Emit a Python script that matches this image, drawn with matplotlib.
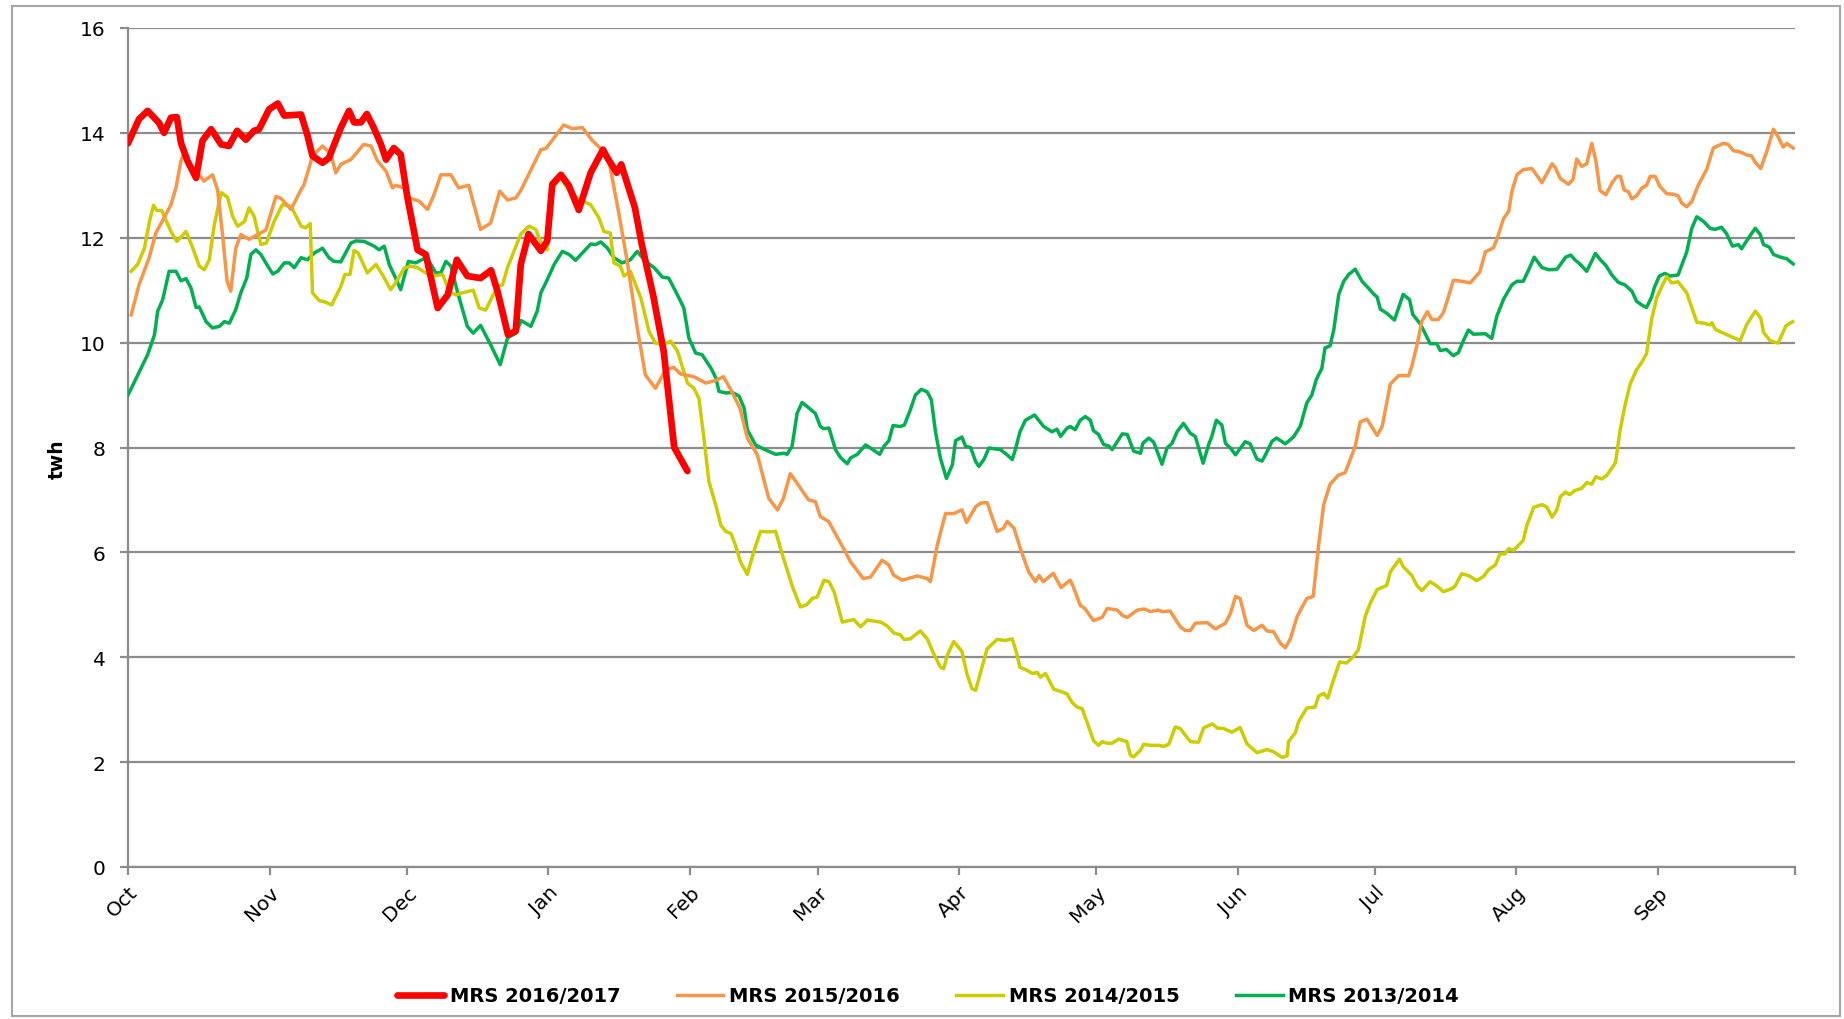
import matplotlib
matplotlib.use("Agg")
import matplotlib.pyplot as plt
from matplotlib.patches import Rectangle

plt.rcParams['font.family'] = ['DejaVu Sans']

# ---------------- data (day offset from 1 Oct, twh) ----------------
month_labels = ["Oct", "Nov", "Dec", "Jan", "Feb", "Mar", "Apr", "May", "Jun", "Jul", "Aug", "Sep"]
month_days = [0, 31, 61, 92, 123, 151, 182, 212, 243, 273, 304, 335]
x_end = 365

red_days = [0, 2.4, 4.3, 6.8, 7.9, 9.4, 10.7, 11.6, 13.0, 14.9, 16.3, 18.2, 20.4, 22.1, 23.9, 25.8,
            27.6, 28.7, 30.9, 32.8, 34.2, 37.9, 39.3, 40.4, 42.6, 44.0, 46.6, 48.4, 49.5, 51.0, 52.3,
            53.8, 55.4, 56.5, 58.2, 59.7, 61.2, 63.4, 65.2, 67.8, 70.0, 72.0, 74.3, 77.2, 79.5, 80.9,
            83.2, 84.9, 86.0, 87.7, 90.4, 91.8, 92.9, 94.8, 96.5, 98.7, 101.3, 104.0, 105.0, 107.0,
            108.0, 111.0, 112.5, 115.0, 117.3, 119.6, 122.5]
red_vals = [13.8, 14.26, 14.42, 14.19, 14.0, 14.29, 14.3, 13.81, 13.47, 13.14, 13.85, 14.07, 13.78,
            13.75, 14.04, 13.87, 14.04, 14.07, 14.45, 14.56, 14.33, 14.35, 13.95, 13.56, 13.43, 13.52,
            14.1, 14.42, 14.2, 14.2, 14.36, 14.1, 13.78, 13.49, 13.71, 13.59, 12.76, 11.77, 11.68,
            10.66, 10.91, 11.58, 11.27, 11.23, 11.38, 10.98, 10.15, 10.22, 11.49, 12.07, 11.75, 11.94,
            13.02, 13.2, 13.0, 12.53, 13.24, 13.68, 13.52, 13.24, 13.4, 12.57, 11.87, 10.9, 9.83, 8.0,
            7.55]

orange_days = [0.7, 2.4, 4.6, 6.1, 7.9, 9.4, 10.5, 11.6, 12.3, 13.3, 14.9, 16.6, 18.5, 19.6, 20.7,
               21.7, 22.5, 23.6, 24.7, 26.5, 28.4, 30.2, 32.4, 33.5, 35.7, 37.9, 38.5, 40.4, 42.6,
               44.4, 45.5, 46.6, 48.8, 51.6, 53.2, 54.6, 56.5, 57.9, 58.6, 60.4, 61.5, 63.7, 65.6,
               67.0, 68.5, 70.7, 72.4, 74.6, 77.2, 79.4, 81.4, 83.1, 84.9, 86.0, 87.7, 90.4, 91.5,
               95.4, 97.3, 99.5, 101.7, 103.5, 105.3, 107.4, 109.3, 111.5, 113.3, 115.5, 117.7,
               119.5, 121.0, 123.9, 126.5, 128.7, 130.4, 132.0, 134.0, 135.6, 137.8, 140.3, 142.2,
               143.5, 145.0, 146.5, 149.0, 150.5, 151.6, 153.4, 156.7, 158.2, 161.0, 162.6, 165.1,
               166.6, 167.6, 169.5, 172.8, 175.0, 175.7, 177.2, 179.0, 180.8, 182.6, 183.6, 185.6,
               186.7, 188.1, 190.3, 191.7, 192.5, 194.0, 195.4, 197.2, 198.7, 199.5, 200.4, 202.6,
               204.3, 206.3, 207.0, 208.5, 209.5, 211.4, 213.3, 214.4, 216.6, 217.7, 218.8, 221.0,
               222.5, 223.9, 225.5, 226.5, 228.2, 230.4, 231.5, 232.6, 233.7, 236.3, 238.1, 240.3,
               241.4, 242.5, 243.5, 245.0, 246.5, 248.3, 249.4, 250.8, 252.3, 253.4, 254.5, 256.0,
               258.1, 259.5, 260.7, 261.8, 263.2, 265.0, 266.5, 268.7, 269.8, 271.3, 273.5, 274.6,
               276.4, 278.2, 280.4, 281.1, 282.2, 283.3, 284.5, 285.5, 286.9, 288.0, 289.1, 290.2,
               292.0, 293.9, 296.0, 297.2, 299.0, 300.0, 301.2, 302.3, 303.0, 304.1, 305.5, 307.4,
               309.6, 311.8, 312.5, 313.6, 315.4, 316.4, 317.2, 318.3, 319.4, 320.5, 321.4, 322.3,
               323.6, 324.9, 326.0, 326.8, 327.6, 328.5, 329.3, 330.3, 331.4, 332.5, 333.3, 334.4,
               335.4, 336.9, 338.4, 339.4, 340.2, 341.3, 342.4, 343.8, 345.7, 347.1, 349.3, 350.4,
               351.5, 352.9, 354.4, 355.5, 356.3, 357.5, 358.8, 360.3, 361.4, 362.4, 363.2, 364.6]
orange_vals = [10.53, 11.1, 11.61, 12.09, 12.38, 12.63, 12.95, 13.47, 13.62, 13.4, 13.3, 13.08, 13.2,
               12.92, 12.06, 11.17, 10.98, 11.8, 12.06, 11.97, 12.06, 12.15, 12.79, 12.75, 12.54,
               12.92, 13.0, 13.56, 13.75, 13.6, 13.24, 13.4, 13.49, 13.78, 13.75, 13.47, 13.27,
               12.95, 13.0, 12.95, 12.76, 12.7, 12.54, 12.82, 13.2, 13.2, 12.95, 13.0, 12.16, 12.28,
               12.89, 12.72, 12.76, 12.9, 13.2, 13.68, 13.7, 14.15, 14.08, 14.1, 13.85, 13.7, 13.47,
               12.5, 11.55, 10.28, 9.38, 9.13, 9.48, 9.53, 9.4, 9.35, 9.23, 9.28, 9.35, 9.1, 8.75,
               8.18, 7.86, 7.03, 6.81, 7.03, 7.5, 7.32, 7.0, 6.97, 6.68, 6.59, 6.07, 5.82, 5.5, 5.53,
               5.85, 5.76, 5.57, 5.47, 5.55, 5.5, 5.44, 6.14, 6.74, 6.74, 6.81, 6.57, 6.87, 6.94,
               6.95, 6.4, 6.46, 6.59, 6.46, 6.07, 5.63, 5.44, 5.56, 5.44, 5.6, 5.33, 5.47, 5.34,
               4.99, 4.93, 4.7, 4.76, 4.93, 4.9, 4.8, 4.76, 4.9, 4.92, 4.87, 4.9, 4.87, 4.88, 4.58,
               4.51, 4.51, 4.65, 4.66, 4.54, 4.65, 4.84, 5.16, 5.12, 4.61, 4.51, 4.61, 4.5, 4.49,
               4.27, 4.18, 4.35, 4.78, 5.12, 5.16, 6.14, 6.91, 7.3, 7.47, 7.52, 8.02, 8.49, 8.54,
               8.23, 8.4, 9.21, 9.37, 9.37, 9.55, 9.94, 10.41, 10.59, 10.44, 10.44, 10.57, 10.87,
               11.19, 11.17, 11.14, 11.35, 11.73, 11.81, 12.04, 12.37, 12.5, 12.88, 13.2, 13.3,
               13.32, 13.05, 13.41, 13.34, 13.13, 13.02, 13.11, 13.5, 13.36, 13.41, 13.8, 13.47,
               12.9, 12.82, 13.04, 13.17, 13.17, 12.91, 12.88, 12.74, 12.8, 12.94, 13.0, 13.17,
               13.17, 12.98, 12.84, 12.83, 12.8, 12.66, 12.59, 12.69, 13.0, 13.31, 13.71, 13.8,
               13.78, 13.66, 13.64, 13.58, 13.56, 13.44, 13.32, 13.64, 14.07, 13.91, 13.73, 13.8,
               13.71]

yellow_days = [0.7, 2.1, 3.6, 4.7, 5.6, 6.3, 7.4, 9.4, 10.7, 12.7, 14.2, 15.6, 16.7, 17.8, 18.9,
               20.4, 21.8, 22.9, 24.0, 25.5, 26.5, 27.6, 29.1, 30.3, 32.0, 33.8, 35.7, 37.9, 38.9,
               39.9, 40.4, 41.9, 43.0, 44.6, 46.6, 47.5, 48.6, 49.5, 50.4, 52.4, 54.3, 55.7, 57.5,
               58.6, 60.5, 61.9, 63.4, 65.2, 67.0, 68.9, 70.3, 71.8, 73.2, 75.6, 76.9, 78.3, 80.9,
               82.0, 83.1, 84.5, 86.0, 87.8, 89.3, 90.7, 91.8, 92.9, 94.7, 96.9, 98.8, 101.3, 103.1,
               104.2, 105.6, 106.4, 107.8, 108.6, 110.0, 112.3, 114.1, 115.5, 117.3, 118.8, 120.3,
               122.5, 123.9, 125.0, 126.1, 127.2, 128.7, 129.8, 130.9, 132.0, 133.0, 134.1, 135.6,
               137.0, 138.5, 140.3, 141.8, 143.3, 145.4, 147.2, 148.6, 149.8, 150.9, 152.4, 153.5,
               154.6, 156.4, 158.9, 160.4, 161.9, 164.8, 166.2, 167.7, 169.1, 169.9, 171.3, 172.4,
               173.5, 175.0, 176.4, 177.9, 178.6, 179.4, 180.8, 182.6, 183.7, 184.8, 185.6, 186.7,
               188.1, 190.3, 192.1, 193.6, 194.4, 195.3, 196.9, 198.0, 199.1, 199.8, 200.9, 202.7,
               204.2, 205.6, 206.7, 207.8, 208.9, 210.0, 211.4, 212.5, 213.3, 214.4, 215.5, 216.9,
               218.7, 219.5, 220.2, 221.7, 222.4, 223.9, 225.7, 226.8, 227.9, 229.3, 230.4, 232.6,
               234.4, 235.5, 237.4, 238.5, 239.9, 241.7, 243.5, 245.0, 247.2, 249.4, 250.8, 252.7,
               253.8, 254.1, 255.6, 256.3, 258.1, 259.9, 260.7, 261.8, 262.7, 264.0, 265.3, 266.8,
               268.3, 269.4, 270.9, 272.0, 273.5, 275.6, 276.4, 278.4, 279.2, 281.1, 282.2, 283.3,
               285.1, 286.6, 288.0, 289.9, 290.6, 292.0, 293.5, 295.3, 296.8, 297.9, 299.4, 300.4,
               301.5, 302.3, 303.4, 305.5, 306.3, 307.8, 309.6, 310.7, 311.8, 312.9, 313.6, 314.7,
               315.7, 316.8, 318.3, 319.4, 320.5, 321.4, 322.7, 323.8, 325.7, 326.7, 327.8, 328.9,
               330.3, 331.4, 332.5, 333.6, 334.7, 335.4, 336.9, 338.0, 339.4, 341.3, 343.5, 345.0,
               346.4, 346.8, 347.6, 350.6, 353.0, 354.4, 356.3, 357.5, 358.1, 359.5, 361.3, 363.0,
               364.5]
yellow_vals = [11.36, 11.49, 11.8, 12.31, 12.62, 12.52, 12.52, 12.12, 11.93, 12.12, 11.8, 11.46,
               11.39, 11.58, 12.25, 12.86, 12.77, 12.41, 12.22, 12.31, 12.57, 12.41, 11.87, 11.9,
               12.31, 12.63, 12.6, 12.22, 12.19, 12.27, 10.95, 10.8, 10.78, 10.72, 11.07, 11.3,
               11.3, 11.76, 11.71, 11.33, 11.49, 11.3, 11.01, 11.14, 11.42, 11.46, 11.43, 11.33,
               11.27, 11.3, 10.98, 10.91, 10.95, 11.0, 10.66, 10.62, 11.07, 11.1, 11.43, 11.74,
               12.07, 12.22, 12.16, 11.84, 11.77, 12.95, 13.14, 12.86, 12.73, 12.63, 12.38, 12.12,
               12.09, 11.52, 11.46, 11.27, 11.36, 10.85, 10.21, 9.99, 9.96, 10.03, 9.84, 9.23, 9.13,
               8.94, 8.18, 7.35, 6.9, 6.52, 6.4, 6.36, 6.14, 5.82, 5.58, 6.01, 6.4, 6.39, 6.4, 5.95,
               5.37, 4.96, 5.0, 5.12, 5.15, 5.47, 5.44, 5.25, 4.67, 4.72, 4.58, 4.71, 4.67, 4.6,
               4.46, 4.43, 4.34, 4.35, 4.43, 4.5, 4.35, 4.07, 3.81, 3.78, 4.04, 4.3, 4.11, 3.68,
               3.4, 3.37, 3.72, 4.16, 4.34, 4.32, 4.35, 4.13, 3.81, 3.75, 3.69, 3.71, 3.62, 3.69,
               3.39, 3.35, 3.3, 3.14, 3.05, 3.02, 2.76, 2.41, 2.32, 2.39, 2.36, 2.36, 2.44, 2.39,
               2.13, 2.1, 2.23, 2.34, 2.32, 2.32, 2.3, 2.34, 2.67, 2.64, 2.39, 2.38, 2.65, 2.73,
               2.65, 2.64, 2.57, 2.66, 2.35, 2.18, 2.24, 2.2, 2.09, 2.12, 2.39, 2.56, 2.77, 3.03,
               3.05, 3.26, 3.31, 3.22, 3.58, 3.91, 3.89, 4.01, 4.14, 4.78, 5.03, 5.29, 5.37, 5.63,
               5.87, 5.73, 5.56, 5.37, 5.27, 5.44, 5.36, 5.25, 5.31, 5.36, 5.59, 5.56, 5.46, 5.54,
               5.67, 5.76, 5.97, 5.97, 6.07, 6.04, 6.23, 6.52, 6.86, 6.91, 6.86, 6.67, 6.82, 7.06,
               7.15, 7.1, 7.18, 7.22, 7.33, 7.3, 7.44, 7.4, 7.47, 7.71, 8.33, 8.81, 9.21, 9.48,
               9.62, 9.79, 10.44, 10.85, 10.99, 11.26, 11.14, 11.16, 10.95, 10.39, 10.37, 10.34,
               10.38, 10.25, 10.13, 10.04, 10.34, 10.6, 10.47, 10.2, 10.04, 9.99, 10.32, 10.4]

green_days = [0.0, 2.5, 4.3, 5.8, 6.5, 7.6, 9.0, 10.5, 11.6, 12.7, 13.8, 14.9, 15.6, 17.1, 18.5,
              20.0, 21.1, 22.2, 23.6, 24.7, 26.0, 26.9, 28.0, 29.1, 30.6, 31.7, 32.8, 34.2, 35.3,
              36.4, 37.9, 39.3, 40.8, 42.6, 44.0, 45.1, 46.6, 48.8, 49.9, 51.7, 53.9, 55.0, 56.1,
              57.2, 58.6, 59.7, 61.4, 63.0, 65.4, 67.4, 68.5, 69.6, 70.7, 72.1, 74.3, 75.6, 77.2,
              79.4, 81.5, 83.1, 84.9, 86.1, 88.2, 89.6, 90.4, 91.8, 93.3, 95.1, 96.6, 98.0, 99.5,
              101.3, 102.4, 103.5, 104.9, 106.4, 108.2, 110.0, 111.5, 113.3, 115.2, 117.0, 118.4,
              120.3, 121.7, 122.8, 124.3, 125.7, 127.6, 128.7, 129.4, 130.9, 132.3, 133.8, 134.9,
              135.6, 137.4, 139.2, 141.8, 143.6, 144.3, 145.4, 146.5, 147.6, 149.0, 150.5, 151.6,
              152.3, 153.5, 154.9, 156.0, 157.5, 158.2, 159.7, 161.5, 162.9, 164.6, 165.5, 166.6,
              167.5, 169.1, 170.0, 171.3, 172.4, 173.7, 175.0, 175.9, 176.8, 177.9, 179.2, 180.5,
              181.2, 182.6, 183.4, 184.5, 185.6, 186.3, 187.4, 188.5, 191.0, 192.5, 193.6, 194.3,
              195.3, 196.5, 198.5, 200.5, 202.3, 203.4, 204.2, 205.6, 206.3, 207.4, 208.5, 209.6,
              210.7, 211.4, 212.5, 213.6, 214.7, 215.5, 216.6, 217.7, 218.8, 220.2, 221.7, 222.2,
              223.5, 224.6, 226.4, 227.5, 228.6, 229.7, 231.1, 232.6, 233.7, 235.4, 236.6, 237.3,
              238.3, 239.5, 240.3, 241.4, 242.5, 243.5, 244.6, 245.7, 247.2, 248.3, 249.0, 250.5,
              251.5, 253.4, 255.2, 256.7, 258.1, 259.2, 260.2, 261.4, 262.1, 263.2, 264.0, 265.1,
              266.2, 267.3, 268.7, 270.2, 271.6, 272.7, 273.5, 274.2, 275.6, 277.3, 279.2, 280.6,
              281.3, 283.0, 284.1, 285.1, 286.6, 287.3, 288.7, 290.2, 291.3, 292.3, 293.5, 294.6,
              297.2, 298.6, 299.7, 301.2, 303.0, 304.1, 305.5, 306.7, 307.9, 309.6, 311.1, 312.9,
              314.8, 315.9, 316.8, 317.9, 319.4, 321.3, 322.4, 323.6, 324.9, 326.3, 327.8, 329.3,
              330.3, 331.4, 332.5, 333.6, 334.2, 335.3, 336.5, 337.6, 339.4, 341.3, 342.4, 343.5,
              345.0, 346.4, 347.5, 348.9, 350.0, 351.3, 352.6, 353.3, 354.7, 356.3, 357.4, 358.1,
              359.4, 360.3, 361.8, 363.2, 364.6]
green_vals = [9.0, 9.45, 9.77, 10.15, 10.6, 10.82, 11.36, 11.36, 11.18, 11.22, 11.04, 10.67, 10.68,
              10.4, 10.28, 10.31, 10.4, 10.37, 10.63, 10.95, 11.23, 11.68, 11.77, 11.68, 11.46,
              11.31, 11.36, 11.52, 11.52, 11.43, 11.62, 11.58, 11.71, 11.8, 11.62, 11.55, 11.54,
              11.9, 11.94, 11.93, 11.84, 11.77, 11.84, 11.49, 11.23, 11.01, 11.55, 11.52, 11.63,
              11.33, 11.33, 11.55, 11.46, 10.98, 10.31, 10.18, 10.33, 9.96, 9.58, 10.09, 10.18,
              10.42, 10.31, 10.6, 10.95, 11.2, 11.49, 11.74, 11.68, 11.57, 11.71, 11.88, 11.87,
              11.92, 11.81, 11.62, 11.52, 11.58, 11.74, 11.55, 11.43, 11.25, 11.23, 10.91, 10.66,
              10.09, 9.8, 9.77, 9.52, 9.33, 9.07, 9.04, 9.05, 8.98, 8.75, 8.34, 8.05, 7.97, 7.87,
              7.89, 7.87, 8.02, 8.65, 8.86, 8.76, 8.65, 8.4, 8.36, 8.37, 7.96, 7.81, 7.69, 7.8,
              7.87, 8.05, 7.97, 7.87, 8.02, 8.13, 8.42, 8.4, 8.43, 8.72, 9.0, 9.11, 9.06, 8.91, 8.3,
              7.79, 7.41, 7.67, 8.13, 8.2, 8.02, 8.0, 7.73, 7.64, 7.77, 7.99, 7.96, 7.86, 7.77,
              7.96, 8.3, 8.52, 8.62, 8.4, 8.3, 8.35, 8.21, 8.37, 8.4, 8.34, 8.52, 8.59, 8.52, 8.32,
              8.25, 8.06, 8.03, 7.96, 8.11, 8.26, 8.25, 7.93, 7.89, 8.08, 8.18, 8.1, 7.68, 7.99,
              8.08, 8.3, 8.46, 8.27, 8.21, 7.7, 8.05, 8.21, 8.52, 8.43, 8.08, 7.99, 7.86, 7.98,
              8.11, 8.07, 7.78, 7.74, 7.85, 8.12, 8.18, 8.07, 8.2, 8.41, 8.85, 9.0, 9.3, 9.51, 9.9,
              9.94, 10.24, 10.92, 11.17, 11.3, 11.4, 11.17, 11.04, 10.93, 10.87, 10.64, 10.56,
              10.43, 10.92, 10.82, 10.54, 10.35, 10.16, 9.98, 9.98, 9.85, 9.87, 9.75, 9.81, 10.02,
              10.24, 10.16, 10.17, 10.08, 10.5, 10.83, 11.1, 11.17, 11.17, 11.39, 11.63, 11.43,
              11.39, 11.4, 11.63, 11.67, 11.58, 11.5, 11.36, 11.7, 11.58, 11.47, 11.29, 11.15,
              11.1, 10.98, 10.79, 10.72, 10.67, 10.87, 11.05, 11.27, 11.32, 11.27, 11.29, 11.73,
              12.18, 12.4, 12.31, 12.18, 12.16, 12.2, 12.08, 11.84, 11.87, 11.79, 11.98, 12.18,
              12.06, 11.87, 11.82, 11.68, 11.63, 11.6, 11.5]

series_names = ["MRS 2016/2017", "MRS 2015/2016", "MRS 2014/2015", "MRS 2013/2014"]
y_ticks = [0, 2, 4, 6, 8, 10, 12, 14, 16]

# ---------------- figure ----------------
W, H = 1844, 1020
fig = plt.figure(figsize=(W / 100, H / 100), dpi=100)
fig.patch.set_facecolor("white")

# outer chart border
fig.patches.append(Rectangle((12 / W, 1 - 1017 / H), (1840 - 12) / W, (1017 - 7) / H,
                             transform=fig.transFigure, fill=False, edgecolor="#a6a6a6",
                             linewidth=1.5, zorder=0))

ax = fig.add_axes([128 / W, 1 - 868 / H, (1795 - 128) / W, (868 - 29) / H])

grid_col = "#8c8c8c"
ax.plot(green_days, green_vals, color="#00b050", lw=2.5, label=series_names[3], zorder=3)
ax.plot(yellow_days, yellow_vals, color="#cccc00", lw=2.5, label=series_names[2], zorder=4)
ax.plot(orange_days, orange_vals, color="#f79646", lw=2.5, label=series_names[1], zorder=5)
ax.plot(red_days, red_vals, color="#ff0000", lw=4.8, label=series_names[0], zorder=6,
        solid_capstyle="round", solid_joinstyle="round")

ax.set_xlim(0, x_end)
ax.set_ylim(0, 16)
ax.set_yticks(y_ticks)
ax.set_yticklabels([str(v) for v in y_ticks])
ax.set_xticks(month_days + [x_end])
ax.set_xticklabels(month_labels + [""], rotation=45, ha="right", rotation_mode="anchor")
ax.yaxis.grid(True, color=grid_col, linewidth=1.6)
ax.set_axisbelow(True)
for s in ["top", "right"]:
    ax.spines[s].set_visible(False)
for s in ["left", "bottom"]:
    ax.spines[s].set_color(grid_col)
    ax.spines[s].set_linewidth(1.6)
ax.tick_params(axis="both", colors=grid_col, length=6, width=1.6, labelsize=14.5,
               labelcolor="black")
ax.tick_params(axis="x", pad=5)
ax.tick_params(axis="y", pad=10)
ax.set_ylabel("twh", fontsize=13.5, fontweight="bold")
ax.yaxis.set_label_coords((67 - 128) / (1795 - 128), (868 - 459) / (868 - 29))

handles, labels = ax.get_legend_handles_labels()
order = [3, 2, 1, 0]
leg = fig.legend([handles[i] for i in order], [labels[i] for i in order], loc="center",
                 bbox_to_anchor=(928 / W, 1 - 997 / H), ncol=4, frameon=False,
                 prop={"weight": "bold", "size": 14},
                 handlelength=2.4, handletextpad=0.3, columnspacing=2.9)

fig.savefig("out.png", dpi=100, facecolor="white")
